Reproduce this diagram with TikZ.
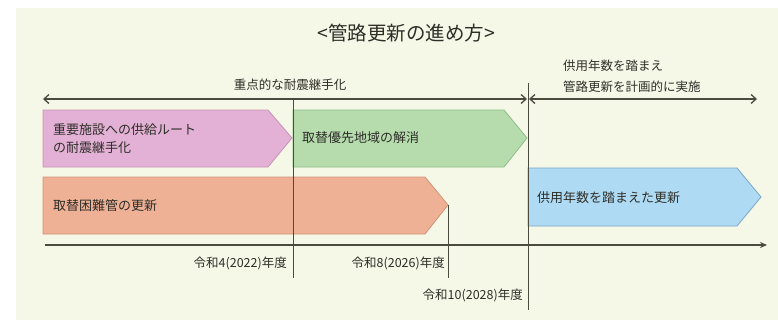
\documentclass[tikz,border=0pt]{standalone}
\usepackage{fontspec}
\setmainfont{Noto Sans CJK JP}
\usetikzlibrary{arrows.meta}
\definecolor{cream}{HTML}{F5F7E7}
\definecolor{ink}{HTML}{2E2E28}
\definecolor{lineg}{HTML}{4A4A3E}
\definecolor{pinkf}{HTML}{E2B1D5}
\definecolor{pinkd}{HTML}{C992B6}
\definecolor{greenf}{HTML}{B6DCAE}
\definecolor{greend}{HTML}{8EBD86}
\definecolor{orangef}{HTML}{EEB196}
\definecolor{oranged}{HTML}{D49274}
\definecolor{bluef}{HTML}{AEDAF3}
\definecolor{blued}{HTML}{7FA7C4}
\tikzset{
  lbl/.style={text=ink, inner sep=0pt, font=\fontsize{12.5}{15}\selectfont},
  boxtxt/.style={text=ink, inner sep=0pt, anchor=west, align=left, font=\fontsize{13}{18}\selectfont},
  guide/.style={draw=lineg, line width=0.8pt},
  span/.style={draw=lineg, line width=1.3pt, {Straight Barb[length=5pt,width=9pt]}-{Straight Barb[length=5pt,width=9pt]}},
  axis/.style={draw=lineg, line width=1.6pt, -{Stealth[length=7pt,width=6pt]}},
}
\begin{document}
\begin{tikzpicture}[x=1pt,y=-1pt]
\useasboundingbox (0,0) rectangle (778,322);
\fill[white] (0,0) rectangle (778,322);
\fill[cream] (16,8) rectangle (778,320);

% title
\node[text=ink, inner sep=0pt, font=\fontsize{19.5}{24}\selectfont] (title) at (406,33) {<管路更新の進め方>};

% bars
\filldraw[fill=pinkf, draw=pinkd, line width=0.8pt] (43,110) -- (268,110) -- (292,138) -- (268,167) -- (43,167) -- cycle;
\filldraw[fill=greenf, draw=greend, line width=0.8pt] (293,110) -- (504,110) -- (527,138) -- (504,167) -- (293,167) -- cycle;
\filldraw[fill=orangef, draw=oranged, line width=0.8pt] (43,177) -- (425,177) -- (448,205) -- (425,234) -- (43,234) -- cycle;
\filldraw[fill=bluef, draw=blued, line width=0.8pt] (528,168) -- (737,168) -- (761,197) -- (737,226) -- (528,226) -- cycle;

\node[boxtxt] (pinktxt) at (53,139) {重要施設への供給ルート\\の耐震継手化};
\node[boxtxt] (greentxt) at (302,138) {取替優先地域の解消};
\node[boxtxt] (orangetxt) at (53,206) {取替困難管の更新};
\node[boxtxt] (bluetxt) at (537,198) {供用年数を踏まえた更新};

% guides
\coordinate (g1t) at (293,99);
\coordinate (g1b) at (293,278);
\coordinate (g2t) at (448,205);
\coordinate (g2b) at (448,278);
\coordinate (g3t) at (528,83);
\coordinate (g3b) at (528,310);
\draw[guide] (g1t) -- (g1b);
\draw[guide] (g2t) -- (g2b);
\draw[guide] (g3t) -- (g3b);

% top spans
\coordinate (s1a) at (43,99);
\coordinate (s1b) at (527,99);
\coordinate (s2a) at (529,99);
\coordinate (s2b) at (757,99);
\draw[span] (s1a) -- (s1b);
\draw[span] (s2a) -- (s2b);
\node[lbl] (lab1) at (290,85) {重点的な耐震継手化};
\node[lbl, anchor=west, align=left, font=\fontsize{12.5}{21}\selectfont] (lab2) at (563,76) {供用年数を踏まえ\\管路更新を計画的に実施};

% axis
\coordinate (ax0) at (45,245);
\coordinate (ax1) at (767,245);
\draw[axis] (ax0) -- (ax1);

\node[lbl, anchor=east] (y1) at (287,263) {令和4(2022)年度};
\node[lbl, anchor=east] (y2) at (445,263) {令和8(2026)年度};
\node[lbl, anchor=east] (y3) at (523,295) {令和10(2028)年度};
\end{tikzpicture}
\end{document}
